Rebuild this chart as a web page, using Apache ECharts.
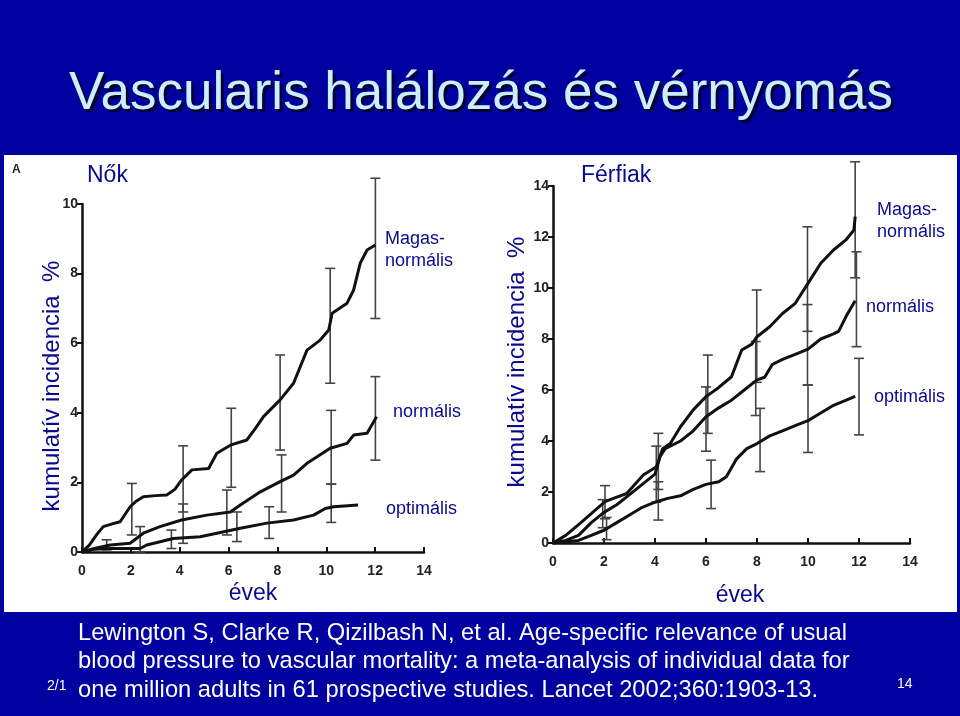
<!DOCTYPE html>
<html>
<head>
<meta charset="utf-8">
<script src="https://cdn.jsdelivr.net/npm/echarts@6/dist/echarts.min.js"></script>
<style>
html,body{margin:0;padding:0;background:#0000a0;}
#c{width:960px;height:716px;}
</style>
</head>
<body>
<div id="c"></div>
<script>
// ---- Data ----
const title = 'Vascularis halálozás és vérnyomás';
const panelWomen = 'Nők';
const panelMen = 'Férfiak';
const yAxisName = 'kumulatív incidencia  %';
const xAxisName = 'évek';
const seriesLabels = ['Magas-\nnormális', 'normális', 'optimális'];
const citationLines = [
  'Lewington S, Clarke R, Qizilbash N, et al. Age-specific relevance of usual',
  'blood pressure to vascular mortality: a meta-analysis of individual data for',
  'one million adults in 61 prospective studies. Lancet 2002;360:1903-13.'
];

// Women (Nők): [year, cumulative incidence %]
const womenHigh = [[0,0],[0.3,0.2],[0.6,0.5],[0.87,0.73],[1.2,0.8],[1.56,0.87],[1.97,1.3],[2.2,1.45],[2.51,1.59],[3.0,1.62],[3.47,1.64],[3.8,1.8],[4.08,2.07],[4.5,2.36],[5.18,2.4],[5.52,2.84],[6.07,3.07],[6.75,3.22],[7.1,3.55],[7.43,3.89],[8.11,4.37],[8.66,4.85],[9.21,5.8],[9.75,6.09],[10.1,6.38],[10.24,6.86],[10.85,7.15],[11.12,7.53],[11.39,8.3],[11.67,8.68],[12.01,8.82]];
const womenNormal = [[0,0],[0.5,0.1],[1.16,0.2],[1.97,0.25],[2.51,0.54],[3.19,0.73],[4.08,0.92],[5.11,1.06],[6.07,1.15],[6.48,1.35],[7.3,1.73],[8.11,2.02],[8.66,2.21],[9.21,2.55],[10.16,2.98],[10.85,3.12],[11.12,3.36],[11.67,3.41],[12.06,3.89]];
const womenOptimal = [[0,0],[0.5,0.08],[1.16,0.1],[2.38,0.1],[2.65,0.2],[3.74,0.39],[4.84,0.44],[5.52,0.54],[6.48,0.68],[7.57,0.83],[8.66,0.92],[9.48,1.06],[9.96,1.25],[10.3,1.3],[11.3,1.35]];
// error bars: [year, low, high]
const womenHighErr = [[2.04,0.49,1.97],[4.14,1.15,3.05],[6.11,1.86,4.13],[8.11,2.93,5.66],[10.16,4.85,8.15],[12.01,6.71,10.74]];
const womenNormalErr = [[2.38,0.0,0.73],[4.14,0.25,1.38],[5.93,0.49,1.78],[8.17,1.15,2.79],[10.2,1.95,4.07],[12.01,2.64,5.04]];
const womenOptimalErr = [[1.01,0.06,0.35],[3.66,0.1,0.63],[6.34,0.3,1.15],[7.66,0.39,1.3],[10.2,0.85,1.95]];

// Men (Férfiak)
const menHigh = [[0,0],[0.5,0.3],[1.06,0.77],[1.5,1.15],[2.04,1.62],[2.5,1.8],[2.89,1.94],[3.54,2.67],[4.06,2.99],[4.3,3.7],[4.6,3.9],[5,4.56],[5.5,5.22],[6,5.74],[6.5,6.1],[7,6.52],[7.4,7.57],[7.8,7.8],[8,8.09],[8.5,8.48],[9,9.0],[9.5,9.4],[10,10.18],[10.5,10.97],[11,11.49],[11.5,11.9],[11.8,12.27],[11.85,12.8]];
const menNormal = [[0,0],[0.5,0.1],[1,0.3],[1.5,0.8],[2,1.2],[2.5,1.5],[3,1.9],[3.5,2.3],[4,2.7],[4.2,3.4],[4.4,3.7],[5,4.0],[5.5,4.4],[6,4.95],[6.5,5.3],[7,5.6],[7.5,6.0],[8,6.4],[8.3,6.5],[8.6,7.0],[9,7.2],[9.5,7.4],[10,7.6],[10.5,8.0],[11,8.2],[11.2,8.3],[11.5,8.9],[11.85,9.5]];
const menOptimal = [[0,0],[0.5,0.05],[1,0.1],[1.5,0.3],[2,0.5],[2.5,0.8],[3,1.1],[3.5,1.4],[4,1.6],[4.5,1.75],[5,1.85],[5.5,2.1],[6,2.3],[6.5,2.4],[6.8,2.6],[7.2,3.3],[7.6,3.7],[8,3.9],[8.5,4.2],[9,4.4],[9.5,4.6],[10,4.8],[10.5,5.1],[11,5.4],[11.5,5.6],[11.85,5.75]];
const menHighErr = [[2.04,0.95,2.25],[4.13,2.1,4.3],[6.07,4.3,7.37],[7.99,6.3,9.92],[9.98,8.3,12.4],[11.85,10.4,14.95]];
const menNormalErr = [[1.95,0.6,1.7],[4.05,1.6,3.8],[6.0,3.6,6.12],[7.95,5.0,7.9],[9.98,6.2,9.35],[11.9,7.7,11.42]];
const menOptimalErr = [[2.1,0.13,1.0],[4.13,0.9,2.4],[6.2,1.35,3.25],[8.12,2.8,5.28],[10.0,3.55,6.2],[12.0,4.24,7.24]];

const womenYMax = 10, menYMax = 14, xMax = 14, tickStep = 2;

// ---- Chart ----
const navy = '#0a0a8c';
const tickFont = {fontFamily:'"Liberation Sans Narrow","Liberation Sans",Arial,sans-serif', fontWeight:'bold', fontSize:14, color:'#222'};

function curve(data, gi){
  return {type:'line', data:data, xAxisIndex:gi, yAxisIndex:gi, showSymbol:false, silent:true,
    lineStyle:{color:'#111', width:3}, z:3};
}
function errBars(data, gi){
  return {type:'custom', data:data, xAxisIndex:gi, yAxisIndex:gi, clip:false, silent:true, z:2,
    encode:{x:0, y:[1,2]},
    renderItem:function(params, api){
      const x = api.value(0), lo = api.value(1), hi = api.value(2);
      const a = api.coord([x, lo]), b = api.coord([x, hi]);
      const w = 5, st = {stroke:'#444', lineWidth:1.6};
      return {type:'group', children:[
        {type:'line', shape:{x1:a[0], y1:a[1], x2:b[0], y2:b[1]}, style:st},
        {type:'line', shape:{x1:a[0]-w, y1:a[1], x2:a[0]+w, y2:a[1]}, style:st},
        {type:'line', shape:{x1:b[0]-w, y1:b[1], x2:b[0]+w, y2:b[1]}, style:st}
      ]};
    }};
}
function xAx(gi){
  return {type:'value', gridIndex:gi, min:0, max:xMax, interval:tickStep,
    axisLine:{show:true, onZero:false, lineStyle:{color:'#111', width:2.5}},
    axisTick:{show:true, inside:true, length:5, lineStyle:{color:'#111', width:2}},
    axisLabel:Object.assign({margin:12}, tickFont), splitLine:{show:false}};
}
function yAx(gi, max){
  return {type:'value', gridIndex:gi, min:0, max:max, interval:tickStep,
    axisLine:{show:true, onZero:false, lineStyle:{color:'#111', width:2.5}},
    axisTick:{show:true, length:5, lineStyle:{color:'#111', width:2}},
    axisLabel:Object.assign({margin:4}, tickFont), splitLine:{show:false}};
}
function txt(x, y, text, size, opts){
  return Object.assign({type:'text', x:x, y:y, silent:true, z:10,
    style:Object.assign({text:text, fill:navy, font:size+'px "Liberation Sans", Arial, sans-serif',
      textAlign:'left', textVerticalAlign:'middle'}, (opts && opts.style) || {})}, (opts && opts.el) || {});
}

const chart = echarts.init(document.getElementById('c'), null, {renderer:'canvas'});
const option = {
  animation:false,
  backgroundColor:'#0000a0',
  grid:[
    {left:82, top:204, width:342, height:348},
    {left:553, top:186, width:357, height:357}
  ],
  xAxis:[xAx(0), xAx(1)],
  yAxis:[yAx(0, womenYMax), yAx(1, menYMax)],
  graphic:[
    {type:'rect', shape:{x:4, y:155, width:953, height:457}, style:{fill:'#ffffff'}, z:-10, silent:true},
    // title with shadow
    {type:'text', x:484, y:124, silent:true, style:{text:title, fill:'#000033', font:'53px "Liberation Sans", Arial, sans-serif', textAlign:'center', textVerticalAlign:'bottom'}},
    {type:'text', x:481, y:121, silent:true, style:{text:title, fill:'#cceeff', font:'53px "Liberation Sans", Arial, sans-serif', textAlign:'center', textVerticalAlign:'bottom'}},
    txt(12, 170, 'A', 12, {style:{fill:'#222', font:'bold 12px "Liberation Sans", Arial, sans-serif'}}),
    txt(87, 176, panelWomen, 23),
    txt(581, 176, panelMen, 23),
    txt(52, 386, yAxisName, 24, {style:{textAlign:'center'}, el:{rotation:Math.PI/2}}),
    txt(517, 362, yAxisName, 24, {style:{textAlign:'center'}, el:{rotation:Math.PI/2}}),
    txt(253, 594, xAxisName, 23, {style:{textAlign:'center'}}),
    txt(740, 596, xAxisName, 23, {style:{textAlign:'center'}}),
    // women labels
    txt(385, 250, seriesLabels[0], 18, {style:{lineHeight:22}}),
    txt(393, 412, seriesLabels[1], 18),
    txt(386, 509, seriesLabels[2], 18),
    // men labels
    txt(877, 221, seriesLabels[0], 18, {style:{lineHeight:22}}),
    txt(866, 307, seriesLabels[1], 18),
    txt(874, 397, seriesLabels[2], 18),
    // citation
    txt(78, 633, citationLines[0], 23.7, {style:{fill:'#ffffff'}}),
    txt(78, 661, citationLines[1], 23.7, {style:{fill:'#ffffff'}}),
    txt(78, 690, citationLines[2], 23.7, {style:{fill:'#ffffff'}}),
    txt(47, 686, '2/1', 14, {style:{fill:'#ffffff'}}),
    txt(897, 684, '14', 14, {style:{fill:'#ffffff'}})
  ],
  series:[
    curve(womenHigh,0), curve(womenNormal,0), curve(womenOptimal,0),
    errBars(womenHighErr,0), errBars(womenNormalErr,0), errBars(womenOptimalErr,0),
    curve(menHigh,1), curve(menNormal,1), curve(menOptimal,1),
    errBars(menHighErr,1), errBars(menNormalErr,1), errBars(menOptimalErr,1)
  ]
};
chart.setOption(option);
</script>
</body>
</html>
